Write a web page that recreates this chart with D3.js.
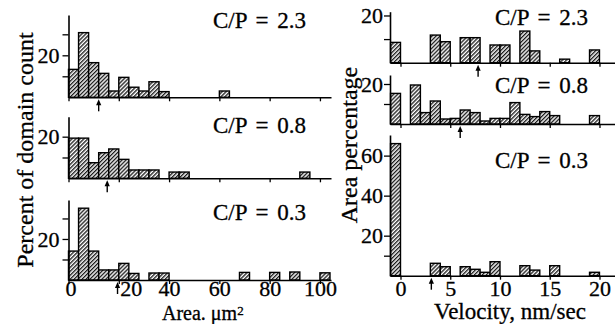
<!DOCTYPE html>
<html>
<head>
<meta charset="utf-8">
<script src="https://cdn.jsdelivr.net/npm/d3@7"></script>
<style>
body { margin: 0; background: #fff; }
svg { display: block; }
text { font-family: "Liberation Serif", "Times New Roman", serif; fill: #000; stroke: #000; stroke-width: 0.3px; }
</style>
</head>
<body>
<svg id="chart" width="615" height="324"></svg>
<script>
// ---- data ----
var cpLabels = ["C/P = 2.3", "C/P = 0.8", "C/P = 0.3"];

// domain area histograms, bins of 4 um^2 (bin start, percent)
var areaStart23 = [0, 4, 8, 12, 16, 20, 24, 28, 32, 36, 60];
var areaPct23   = [13.3, 30.8, 16.5, 11.4, 3, 9.5, 4.8, 3, 7.4, 2.7, 3];
var areaStart08 = [0, 4, 8, 12, 16, 20, 24, 28, 32, 40, 44, 92];
var areaPct08   = [19.3, 19.3, 7.5, 12.3, 14.1, 9.1, 4, 4, 4, 3, 3, 3];
var areaStart03 = [0, 4, 8, 12, 16, 20, 24, 32, 36, 68, 80, 88, 100];
var areaPct03   = [14.1, 35, 14.1, 4.9, 4.9, 8.1, 3.2, 3.4, 3.4, 3.7, 3.7, 3.9, 3.5];
var areaArrows  = [12, 15.4, 19.5];
var areaTicks   = [0, 20, 40, 60, 80, 100];

// velocity histograms, bins of 1 nm/sec (bin start, area percent)
var velStart23 = [-1, 3, 4, 6, 7, 9, 10, 12, 13, 16, 19];
var velPct23   = [8.6, 11.7, 8.9, 10.6, 10.6, 7.5, 7.5, 13.4, 5, 1.5, 5.4];
var velStart08 = [-1, 1, 2, 3, 4, 5, 6, 7, 8, 9, 10, 11, 12, 13, 14, 15, 19];
var velPct08   = [15.3, 19.5, 5.7, 11.5, 2.5, 2.8, 7, 5.7, 1.5, 2.8, 2.8, 10.7, 4.8, 3.7, 6.2, 4.2, 4.2];
var velStart03 = [-1, 3, 4, 6, 7, 8, 9, 12, 13, 15, 19];
var velPct03   = [66, 6.2, 4.5, 4.5, 3.2, 1.7, 7, 5, 2.8, 5, 1.7];
var velArrows  = [7.8, 6, 3.1];
var velTicks   = [0, 5, 10, 15, 20];

var svg = d3.select("#chart");

// hatch fill
var pat = svg.append("defs").append("pattern")
    .attr("id", "hatch")
    .attr("patternUnits", "userSpaceOnUse")
    .attr("width", 2.8).attr("height", 2.8)
    .attr("patternTransform", "rotate(45)");
pat.append("rect").attr("width", 2.8).attr("height", 2.8).attr("fill", "#fff");
pat.append("line")
    .attr("x1", 0.7).attr("y1", 0).attr("x2", 0.7).attr("y2", 2.8)
    .attr("stroke", "#000").attr("stroke-width", 1.2);

var xArea = d3.scaleLinear().domain([0, 104.4]).range([68.5, 331]);
var xVel  = d3.scaleLinear().domain([-1.055, 21.56]).range([390, 615]);

function drawPanel(p) {
    var g = svg.append("g");
    var x = p.x;
    var y = d3.scaleLinear().domain([0, p.ymax]).range([p.base, p.top]);

    g.selectAll(".bar")
        .data(d3.zip(p.starts, p.vals))
        .enter()
        .append("rect")
        .attr("class", "bar")
        .attr("x", function (d) { return x(d[0]); })
        .attr("width", function (d) { return x(d[0] + p.bw) - x(d[0]); })
        .attr("y", function (d) { return y(d[1]); })
        .attr("height", function (d) { return y(0) - y(d[1]); })
        .attr("fill", "url(#hatch)")
        .attr("stroke", "#000")
        .attr("stroke-width", 1.4);

    var xa = g.append("g")
        .attr("transform", "translate(0," + p.base + ")")
        .call(d3.axisBottom(x).tickValues(p.xticks).tickSize(4).tickSizeOuter(0).tickPadding(p.xpad)
            .tickFormat(function (d) { return p.showX ? d : ""; }));

    var ya = g.append("g")
        .attr("transform", "translate(" + x.range()[0] + ",0)")
        .call(d3.axisLeft(y).tickValues(p.yticks).tickSize(6).tickSizeOuter(0).tickPadding(p.ypad)
            .tickFormat(function (d) { return p.ylab.indexOf(d) >= 0 ? d : ""; }));

    [xa, ya].forEach(function (a) {
        a.attr("font-family", null).attr("font-size", null);
        a.select(".domain").attr("stroke-width", 1.6);
        a.selectAll(".tick line").attr("stroke-width", 1.3);
        a.selectAll(".tick text").style("font-size", "22px");
    });
    if (p.nudge) {
        xa.selectAll(".tick text")
            .attr("dx", function (d) { return p.nudge[d] || 0; })
            .attr("dy", "0.55em");
    }

    // mean marker
    var ax = x(p.arrow);
    g.append("line")
        .attr("x1", ax).attr("x2", ax)
        .attr("y1", p.base + 6).attr("y2", p.base + 14)
        .attr("stroke", "#000").attr("stroke-width", 1.4);
    g.append("path")
        .attr("d", "M" + (ax - 2.6) + "," + (p.base + 8) + "L" + ax + "," + (p.base + 2) + "L" + (ax + 2.6) + "," + (p.base + 8) + "Z")
        .attr("fill", "#000");

    g.append("text")
        .attr("x", p.lx).attr("y", p.ly)
        .style("font-size", "23px")
        .style("word-spacing", "3px")
        .text(p.label);
}

var areaSets = [[areaStart23, areaPct23], [areaStart08, areaPct08], [areaStart03, areaPct03]];
var velSets  = [[velStart23, velPct23], [velStart08, velPct08], [velStart03, velPct03]];

var leftGeo  = [{base: 97.3, top: 15, ymax: 39.2, ly: 28},
                {base: 178.3, top: 116.7, ymax: 29.6, ly: 133},
                {base: 280, top: 200, ymax: 39, ly: 220}];
var rightGeo = [{base: 62.7, top: 11.7, ymax: 21.6, ly: 25},
                {base: 124, top: 75, ymax: 24.5, ly: 93},
                {base: 275.7, top: 135, ymax: 70.3, ly: 168}];
var leftYTicks  = [[10, 20, 30], [10, 20], [10, 20, 30]];
var rightYTicks = [[10, 20], [10, 20], [10, 20, 40, 60]];
var rightYLab   = [[20], [20], [20, 40, 60]];

for (var i = 0; i < 3; i++) {
    drawPanel({
        x: xArea, bw: 4, starts: areaSets[i][0], vals: areaSets[i][1],
        base: leftGeo[i].base, top: leftGeo[i].top, ymax: leftGeo[i].ymax,
        xticks: areaTicks, showX: i === 2, xpad: 0, nudge: i === 2 ? {0: 2, 20: 12} : null,
        yticks: leftYTicks[i], ylab: [20], ypad: 3,
        arrow: areaArrows[i], label: cpLabels[i], lx: 213, ly: leftGeo[i].ly
    });
    drawPanel({
        x: xVel, bw: 1, starts: velSets[i][0], vals: velSets[i][1],
        base: rightGeo[i].base, top: rightGeo[i].top, ymax: rightGeo[i].ymax,
        xticks: velTicks, showX: i === 2, xpad: 1, nudge: null,
        yticks: rightYTicks[i], ylab: rightYLab[i], ypad: 1,
        arrow: velArrows[i], label: cpLabels[i], lx: 495, ly: rightGeo[i].ly
    });
}

// axis titles
svg.append("text")
    .attr("transform", "translate(33,150) rotate(-90)")
    .attr("text-anchor", "middle")
    .style("font-size", "24px")
    .text("Percent of domain count");
svg.append("text")
    .attr("transform", "translate(357,145) rotate(-90)")
    .attr("text-anchor", "middle")
    .style("font-size", "24px")
    .text("Area percentage");

var at = svg.append("text")
    .attr("x", 162).attr("y", 319.5)
    .style("font-size", "20px");
at.append("tspan").text("Area. \u03bcm");
at.append("tspan").attr("dy", -5).style("font-size", "13px").text("2");

svg.append("text")
    .attr("x", 510).attr("y", 319)
    .attr("text-anchor", "middle")
    .style("font-size", "23px")
    .text("Velocity, nm/sec");
</script>
</body>
</html>
